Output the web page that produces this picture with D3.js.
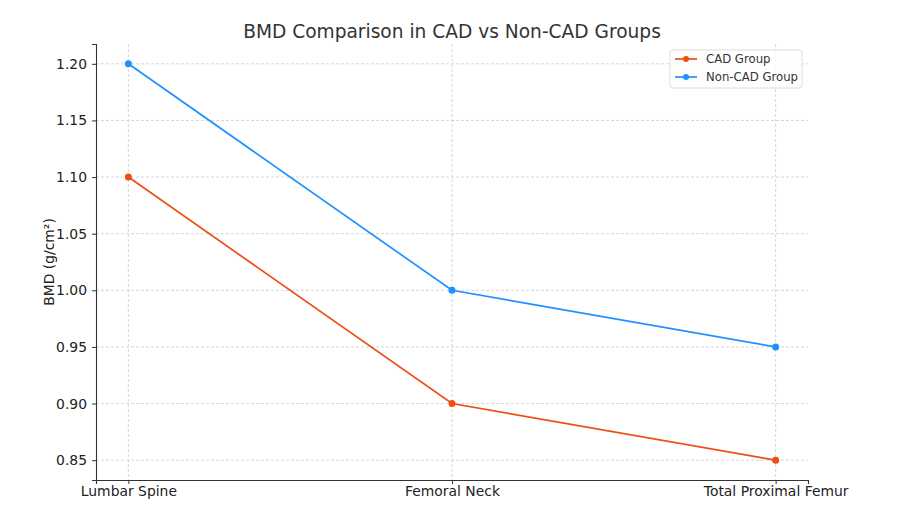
<!DOCTYPE html>
<html>
<head>
<meta charset="utf-8">
<script src="https://cdn.jsdelivr.net/npm/d3@7"></script>
<style>
	body { margin: 0; background: #fff; }
	text { font-family: "DejaVu Sans", sans-serif; fill: #333; }
	.axis path, .axis line { stroke: #333; }
	.grid line { stroke: #ccc; stroke-dasharray: 3,2; stroke-width: 0.8; }
</style>
</head>
<body>
<script>
//data
var sites = ["Lumbar Spine", "Femoral Neck", "Total Proximal Femur"];
var cadValues = [1.10, 0.90, 0.85];
var nonCadValues = [1.20, 1.00, 0.95];
var yTicks = [0.85, 0.90, 0.95, 1.00, 1.05, 1.10, 1.15, 1.20];

var seriesNames = ["CAD Group", "Non-CAD Group"];
var seriesColors = ["#ee4d14", "#1e90ff"];

var width = 904, height = 516,
	margin = {top: 44, right: 96, bottom: 36, left: 96};

var svg = d3.select("body").append("svg")
	.attr("width", width)
	.attr("height", height);

//scales with 5% padding like matplotlib
var xScale = d3.scaleLinear()
	.domain([-0.1, sites.length - 1 + 0.1])
	.range([margin.left, width - margin.right]);
var yScale = d3.scaleLinear()
	.domain([0.8325, 1.2175])
	.range([height - margin.bottom, margin.top]);

//grid
var grid = svg.append("g").attr("class", "grid");
grid.selectAll(".gx").data(sites).enter()
	.append("line")
	.attr("x1", function(d, i) { return xScale(i); })
	.attr("x2", function(d, i) { return xScale(i); })
	.attr("y1", margin.top)
	.attr("y2", height - margin.bottom);
grid.selectAll(".gy").data(yTicks).enter()
	.append("line")
	.attr("x1", margin.left)
	.attr("x2", width - margin.right)
	.attr("y1", function(d) { return yScale(d); })
	.attr("y2", function(d) { return yScale(d); });

//axes
var xAxis = d3.axisBottom(xScale)
	.tickValues(d3.range(sites.length))
	.tickFormat(function(d) { return sites[d]; })
	.tickSizeOuter(0).tickSize(4).tickPadding(2);
var yAxis = d3.axisLeft(yScale)
	.tickValues(yTicks)
	.tickFormat(d3.format(".2f"))
	.tickSizeOuter(0).tickSize(4).tickPadding(5);

var gX = svg.append("g")
	.attr("class", "axis")
	.attr("transform", "translate(0," + (height - margin.bottom) + ")")
	.call(xAxis);
var gY = svg.append("g")
	.attr("class", "axis")
	.attr("transform", "translate(" + margin.left + ",0)")
	.call(yAxis);
svg.selectAll(".axis text").style("font-size", "13.9px").style("fill", "#222");
svg.selectAll(".axis path").style("stroke-width", 1.1);

//labels
svg.append("text")
	.attr("x", (margin.left + width - margin.right) / 2)
	.attr("y", 38)
	.style("text-anchor", "middle")
	.style("font-size", "18.6px")
	.text("BMD Comparison in CAD vs Non-CAD Groups");
svg.append("text")
	.attr("transform", "rotate(-90)")
	.attr("x", -(margin.top + height - margin.bottom) / 2)
	.attr("y", 54)
	.style("text-anchor", "middle")
	.style("font-size", "13.9px")
	.style("fill", "#222")
	.text("BMD (g/cm²)");

//lines and dots
var line = d3.line()
	.x(function(d, i) { return xScale(i); })
	.y(function(d) { return yScale(d); });

[cadValues, nonCadValues].forEach(function(vals, k) {
	svg.append("path")
		.datum(vals)
		.attr("fill", "none")
		.attr("stroke", seriesColors[k])
		.attr("stroke-width", 1.7)
		.attr("d", line);
	svg.append("g").selectAll("circle")
		.data(vals).enter()
		.append("circle")
		.attr("cx", function(d, i) { return xScale(i); })
		.attr("cy", function(d) { return yScale(d); })
		.attr("r", 3.5)
		.style("fill", seriesColors[k]);
});

//legend
var legend = svg.append("g").attr("transform", "translate(670,50)");
legend.append("rect")
	.attr("width", 132).attr("height", 38)
	.attr("rx", 3)
	.style("fill", "#fff").style("fill-opacity", 0.8)
	.style("stroke", "#ddd");
seriesNames.forEach(function(name, k) {
	var y = 9 + k * 18;
	legend.append("line")
		.attr("x1", 5).attr("x2", 27)
		.attr("y1", y).attr("y2", y)
		.attr("stroke", seriesColors[k]).attr("stroke-width", 1.7);
	legend.append("circle")
		.attr("cx", 16).attr("cy", y).attr("r", 3)
		.style("fill", seriesColors[k]);
	legend.append("text")
		.attr("x", 36).attr("y", y + 4)
		.style("font-size", "11.7px")
		.text(name);
});
</script>
</body>
</html>
